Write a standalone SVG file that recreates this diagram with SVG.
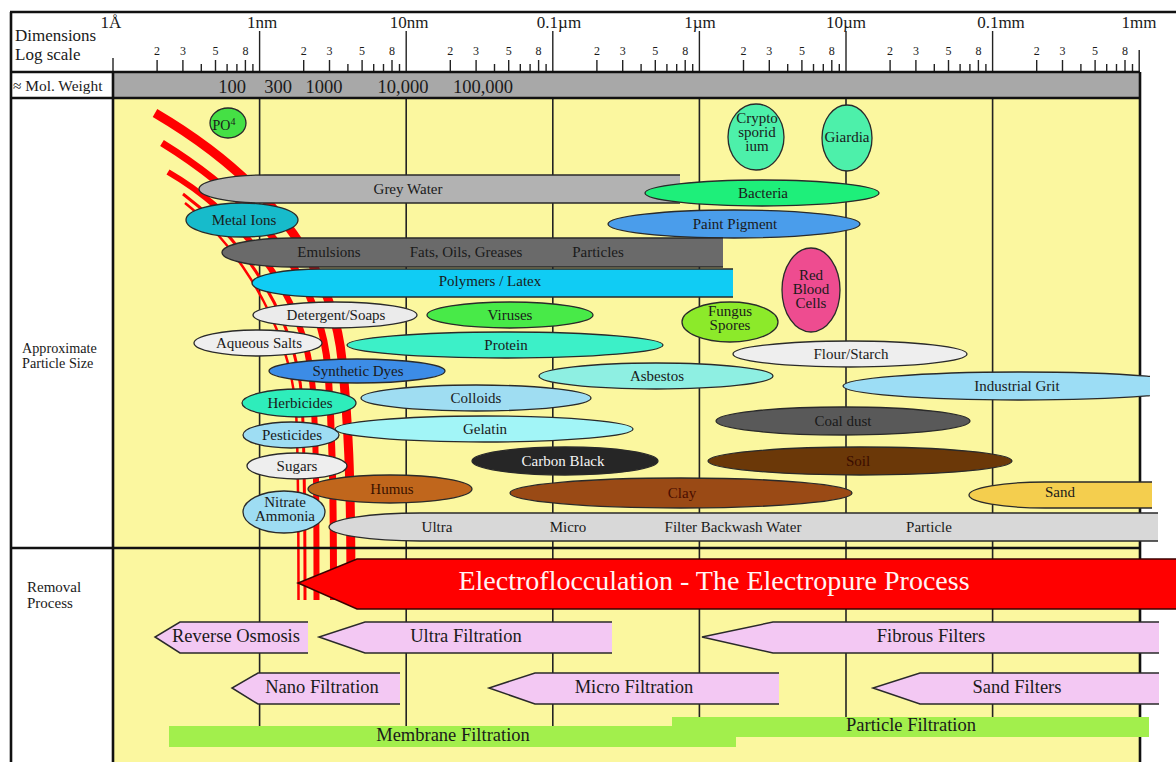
<svg xmlns="http://www.w3.org/2000/svg" width="1176" height="762" viewBox="0 0 1176 762">
<style>
.t{font-family:"Liberation Serif","Times New Roman",serif;fill:#1a1a1a;}
.lbl{font-size:15px;text-anchor:middle;}
.e{stroke:#2a2a2a;stroke-width:1.3;}
.grid{stroke:#222;stroke-width:1.6;fill:none;}
.frame{stroke:#111;stroke-width:2.6;fill:none;}
.tick{stroke:#222;stroke-width:1.4;fill:none;}
.dig{font-size:12px;text-anchor:middle;}
.dec{font-size:17px;text-anchor:middle;}
.mw{font-size:18.5px;text-anchor:middle;}
.stripe{fill:none;stroke:#ff0000;}
.rem{fill:#f3c8f3;stroke:#2a2a2a;stroke-width:1.5;}
.rt{font-size:18.5px;text-anchor:middle;}
.green{fill:#a2ef4c;}
</style>
<defs>
<clipPath id="clipGrit"><rect x="800" y="360" width="350" height="50"/></clipPath>
</defs>
<rect width="1176" height="762" fill="#ffffff"/>
<!-- background panels -->
<rect x="113" y="98" width="1027" height="664" fill="#fbf79f"/>
<rect x="113" y="72" width="1027" height="26" fill="#a8a8a8"/>

<!-- grid lines -->
<g id="grid">
<path class="grid" d="M259.6,98V726M406.2,98V726M552.8,98V726M699.4,98V726M846,98V726M992.6,98V726"/>
<path class="tick" d="M259.6,31V72M406.2,31V72M552.8,31V72M699.4,31V72M846,31V72M992.6,31V72M113,58V72M1139.2,50V72"/>
<path class="tick" d="M157.1,60V72M182.9,60V72M201.3,64V72M215.5,60V72M227.1,64V72M236.9,64V72M245.4,60V72M252.9,64V72
M303.7,60V72M329.5,60V72M347.9,64V72M362.1,60V72M373.7,64V72M383.5,64V72M392,60V72M399.5,64V72
M450.3,60V72M476.1,60V72M494.5,64V72M508.7,60V72M520.3,64V72M530.1,64V72M538.6,60V72M546.1,64V72
M596.9,60V72M622.7,60V72M641.1,64V72M655.3,60V72M666.9,64V72M676.7,64V72M685.2,60V72M692.7,64V72
M743.5,60V72M769.3,60V72M787.7,64V72M801.9,60V72M813.5,64V72M823.3,64V72M831.8,60V72M839.3,64V72
M890.1,60V72M915.9,60V72M934.3,64V72M948.5,60V72M960.1,64V72M969.9,64V72M978.4,60V72M985.9,64V72
M1036.7,60V72M1062.5,60V72M1080.9,64V72M1095.1,60V72M1106.7,64V72M1116.5,64V72M1125,60V72M1132.5,64V72"/>
</g>

<!-- scale labels -->
<g id="scale-labels" class="t">
<text class="dec" x="111" y="28">1Å</text>
<text class="dec" x="262" y="28">1nm</text>
<text class="dec" x="409" y="28">10nm</text>
<text class="dec" x="559" y="28">0.1µm</text>
<text class="dec" x="700" y="28">1µm</text>
<text class="dec" x="846" y="28">10µm</text>
<text class="dec" x="1001" y="28">0.1mm</text>
<text class="dec" x="1139" y="28">1mm</text>
<g class="dig">
<text x="157.1" y="55">2</text><text x="182.9" y="55">3</text><text x="215.5" y="55">5</text><text x="245.4" y="55">8</text>
<text x="303.7" y="55">2</text><text x="329.5" y="55">3</text><text x="362.1" y="55">5</text><text x="392" y="55">8</text>
<text x="450.3" y="55">2</text><text x="476.1" y="55">3</text><text x="508.7" y="55">5</text><text x="538.6" y="55">8</text>
<text x="596.9" y="55">2</text><text x="622.7" y="55">3</text><text x="655.3" y="55">5</text><text x="685.2" y="55">8</text>
<text x="743.5" y="55">2</text><text x="769.3" y="55">3</text><text x="801.9" y="55">5</text><text x="831.8" y="55">8</text>
<text x="890.1" y="55">2</text><text x="915.9" y="55">3</text><text x="948.5" y="55">5</text><text x="978.4" y="55">8</text>
<text x="1036.7" y="55">2</text><text x="1062.5" y="55">3</text><text x="1095.1" y="55">5</text><text x="1125" y="55">8</text>
</g>
<text x="15" y="41" font-size="17">Dimensions</text>
<text x="15" y="59.5" font-size="17">Log scale</text>
<text x="13" y="91" font-size="15.4">≈ Mol. Weight</text>
<text class="mw" x="232" y="93">100</text>
<text class="mw" x="278" y="93">300</text>
<text class="mw" x="324" y="93">1000</text>
<text class="mw" x="403" y="93">10,000</text>
<text class="mw" x="483" y="93">100,000</text>
<text x="22" y="353" font-size="14.2">Approximate</text>
<text x="22" y="368" font-size="14.2">Particle Size</text>
<text x="27" y="592" font-size="15">Removal</text>
<text x="27" y="607.5" font-size="15">Process</text>
</g>

<!-- red electroflocculation stripes -->
<g id="stripes">
<path class="stripe" stroke-width="9" d="M155,113 C235,160 330,240 342,360 C348,420 351,470 351,600"/>
<path class="stripe" stroke-width="7" d="M162,143 C230,185 320,260 328,370 C332,430 333.5,480 333.5,600"/>
<path class="stripe" stroke-width="6" d="M168,172 C225,205 305,280 313,390 C316,440 316.5,480 316.5,600"/>
<path class="stripe" stroke-width="3" d="M183,194 C225,225 295,300 302,400 C304,440 305,480 305,600"/>
<path class="stripe" stroke-width="2.5" d="M185,203 C222,232 288,310 296,410 C298,450 298.5,480 298.5,600"/>
</g>

<!-- frame lines -->
<g id="frame">
<path class="frame" d="M10,12H1176M11,12V762M113,72V762M1140,72V762"/>
<path class="frame" stroke-width="2" d="M11,72H1140M11,98H1140"/>
<path class="frame" stroke-width="3" d="M11,548H1140"/>
</g>

<!-- particle nodes -->
<g id="po4"><ellipse class="e" cx="228" cy="123" rx="18" ry="15" fill="#45e045"/><text class="t" x="224" y="130" font-size="14" text-anchor="middle">PO<tspan font-size="10" dy="-5">4</tspan></text></g>
<g id="cryptosporidium"><ellipse class="e" cx="756" cy="137" rx="28" ry="33" fill="#4df0aa"/><text class="t lbl" font-size="14" x="757" y="123">Crypto</text><text class="t lbl" font-size="14" x="757" y="137">sporid</text><text class="t lbl" font-size="14" x="757" y="151">ium</text></g>
<g id="giardia"><ellipse class="e" cx="847" cy="138" rx="25" ry="33" fill="#4df0aa"/><text class="t lbl" font-size="14" x="847" y="142">Giardia</text></g>
<g id="grey-water"><path class="e" fill="#b2b2b2" d="M680,203 H265 A66,14 0 0 1 199,189 A66,14 0 0 1 265,175 H680"/><text class="t lbl" x="408" y="194">Grey Water</text></g>
<g id="bacteria"><ellipse class="e" cx="762" cy="193" rx="117" ry="13" fill="#1eef7a"/><text class="t lbl" x="763" y="198">Bacteria</text></g>
<g id="metal-ions"><ellipse class="e" cx="242" cy="220" rx="56" ry="17" fill="#17bbcb"/><text class="t lbl" x="244" y="225">Metal Ions</text></g>
<g id="paint-pigment"><ellipse class="e" cx="734" cy="224" rx="126" ry="14" fill="#4a9deb"/><text class="t lbl" x="735" y="229">Paint Pigment</text></g>
<g id="emulsions"><path class="e" fill="#6a6a6a" d="M723,267 H292 A70,14.5 0 0 1 222,252.5 A70,14.5 0 0 1 292,238 H723"/><text class="t lbl" x="329" y="257">Emulsions</text><text class="t lbl" x="466" y="257">Fats, Oils, Greases</text><text class="t lbl" x="598" y="257">Particles</text></g>
<g id="polymers"><path class="e" fill="#10ccf4" d="M733,297 H322 A70,14 0 0 1 252,283 A70,14 0 0 1 322,269 H733"/><text class="t lbl" font-size="12.5" x="490" y="286">Polymers / Latex</text></g>
<g id="red-blood-cells"><ellipse class="e" cx="811" cy="290" rx="29" ry="42" fill="#ee4c90"/><text class="t lbl" font-size="14.5" x="811" y="280">Red</text><text class="t lbl" font-size="14.5" x="811" y="294">Blood</text><text class="t lbl" font-size="14.5" x="811" y="308">Cells</text></g>
<g id="detergent"><ellipse class="e" cx="335" cy="315" rx="82" ry="13" fill="#ebebeb"/><text class="t lbl" x="336" y="320">Detergent/Soaps</text></g>
<g id="viruses"><ellipse class="e" cx="510" cy="315" rx="83" ry="13" fill="#48ea48"/><text class="t lbl" x="510" y="320">Viruses</text></g>
<g id="fungus-spores"><ellipse class="e" cx="730" cy="322" rx="48" ry="20" fill="#8cea2a"/><text class="t lbl" font-size="13.5" x="730" y="316">Fungus</text><text class="t lbl" font-size="13.5" x="730" y="330">Spores</text></g>
<g id="aqueous-salts"><ellipse class="e" cx="258" cy="343" rx="64" ry="13" fill="#efefef"/><text class="t lbl" x="259" y="348">Aqueous Salts</text></g>
<g id="protein"><ellipse class="e" cx="505" cy="345" rx="158" ry="13" fill="#3cf0c8"/><text class="t lbl" x="506" y="350">Protein</text></g>
<g id="flour-starch"><ellipse class="e" cx="850" cy="354" rx="117" ry="13" fill="#eeeeee"/><text class="t lbl" x="851" y="359">Flour/Starch</text></g>
<g id="synthetic-dyes"><ellipse class="e" cx="357" cy="371" rx="88" ry="12" fill="#3c8ce6"/><text class="t lbl" x="358" y="376">Synthetic Dyes</text></g>
<g id="asbestos"><ellipse class="e" cx="656" cy="376" rx="117" ry="13" fill="#8eefe2"/><text class="t lbl" x="657" y="381">Asbestos</text></g>
<g id="industrial-grit"><ellipse class="e" cx="1021" cy="386" rx="178" ry="14" fill="#9cddf5" clip-path="url(#clipGrit)"/><text class="t lbl" x="1017" y="391">Industrial Grit</text></g>
<g id="herbicides"><ellipse class="e" cx="299" cy="403" rx="57" ry="14" fill="#2eedbb"/><text class="t lbl" x="300" y="408">Herbicides</text></g>
<g id="colloids"><ellipse class="e" cx="476" cy="398" rx="115" ry="13" fill="#9fddf2"/><text class="t lbl" x="476" y="403">Colloids</text></g>
<g id="coal-dust"><ellipse class="e" cx="843" cy="421" rx="127" ry="14" fill="#595959"/><text class="t lbl" x="843" y="426">Coal dust</text></g>
<g id="gelatin"><ellipse class="e" cx="484" cy="429" rx="149" ry="13" fill="#a2f5f7"/><text class="t lbl" x="485" y="434">Gelatin</text></g>
<g id="pesticides"><ellipse class="e" cx="291" cy="435" rx="48" ry="13" fill="#9eddf3"/><text class="t lbl" x="292" y="440">Pesticides</text></g>
<g id="sugars"><ellipse class="e" cx="297" cy="466" rx="50" ry="13" fill="#eeeeee"/><text class="t lbl" x="297" y="471">Sugars</text></g>
<g id="carbon-black"><ellipse class="e" cx="565" cy="461" rx="93" ry="14" fill="#262626"/><text class="t lbl" x="563" y="466" style="fill:#f4f4f4">Carbon Black</text></g>
<g id="soil"><ellipse class="e" cx="860" cy="461" rx="152" ry="14" fill="#6b3808"/><text class="t lbl" x="858" y="466" style="fill:#3a0c00">Soil</text></g>
<g id="humus"><ellipse class="e" cx="390" cy="489" rx="82" ry="14" fill="#c0661c"/><text class="t lbl" x="392" y="494" style="fill:#3a1200">Humus</text></g>
<g id="clay"><ellipse class="e" cx="681" cy="493" rx="171" ry="15" fill="#9a4a15"/><text class="t lbl" x="682" y="498" style="fill:#4a0e00">Clay</text></g>
<g id="sand"><path class="e" fill="#f4ce4e" d="M1152,508 H1045 A76,13 0 0 1 969,495 A76,13 0 0 1 1045,482 H1152"/><text class="t lbl" x="1060" y="497">Sand</text></g>
<g id="nitrate-ammonia"><ellipse class="e" cx="284" cy="512" rx="41" ry="21" fill="#9eddf3"/><text class="t lbl" font-size="14.5" x="285" y="507">Nitrate</text><text class="t lbl" font-size="14.5" x="285" y="521">Ammonia</text></g>
<g id="filter-backwash"><path class="e" fill="#d8d8d8" d="M1158,541 H420 A91,14 0 0 1 329,527 A91,14 0 0 1 420,513 H1158"/><text class="t lbl" x="437" y="532">Ultra</text><text class="t lbl" x="568" y="532">Micro</text><text class="t lbl" x="733" y="532">Filter Backwash Water</text><text class="t lbl" x="929" y="532">Particle</text></g>

<!-- removal processes -->
<g id="electroflocculation"><path fill="#ff0000" stroke="#3a0000" stroke-width="1.5" d="M1176,559 L357,559 L298,583 L357,609 L1176,609"/><text class="t" x="714" y="590" font-size="28" text-anchor="middle" style="fill:#fff4f4">Electroflocculation - The Electropure Process</text></g>
<g id="reverse-osmosis"><path class="rem" d="M308,622 H180 L155,637 L180,653 H308"/><text class="t rt" x="236" y="642">Reverse Osmosis</text></g>
<g id="ultra-filtration"><path class="rem" d="M612,622 H365 L319,637 L365,653 H612"/><text class="t rt" x="466" y="642">Ultra Filtration</text></g>
<g id="fibrous-filters"><path class="rem" d="M1159,622 H773 L702,637 L773,653 H1159"/><text class="t rt" x="931" y="642">Fibrous Filters</text></g>
<g id="nano-filtration"><path class="rem" d="M400,673 H258 L232,688 L258,704 H400"/><text class="t rt" x="322" y="693">Nano Filtration</text></g>
<g id="micro-filtration"><path class="rem" d="M779,673 H535 L489,688 L535,704 H779"/><text class="t rt" x="634" y="693">Micro Filtration</text></g>
<g id="sand-filters"><path class="rem" d="M1159,673 H920 L873,688 L920,704 H1159"/><text class="t rt" x="1017" y="693">Sand Filters</text></g>
<g id="particle-filtration"><rect class="green" x="672" y="717" width="477" height="20"/><text class="t rt" x="911" y="731">Particle Filtration</text></g>
<g id="membrane-filtration"><rect class="green" x="169" y="726" width="567" height="21"/><text class="t rt" x="453" y="741">Membrane Filtration</text></g>
</svg>
